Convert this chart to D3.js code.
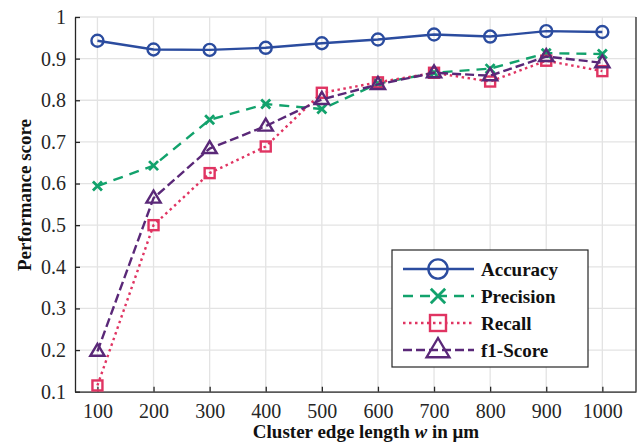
<!DOCTYPE html>
<html><head><meta charset="utf-8">
<script src="https://cdn.jsdelivr.net/npm/d3@7"></script>
<style>body{margin:0;background:#fff}</style>
</head><body>
<script>
const edgeLengths = [100,200,300,400,500,600,700,800,900,1000];
const accuracy  = [0.943,0.922,0.921,0.926,0.937,0.946,0.958,0.953,0.966,0.964];
const precision = [0.594,0.643,0.753,0.791,0.779,0.840,0.866,0.876,0.913,0.911];
const recall    = [0.115,0.500,0.625,0.689,0.818,0.843,0.866,0.845,0.895,0.870];
const f1score   = [0.197,0.565,0.684,0.738,0.802,0.838,0.866,0.859,0.905,0.890];
const xTicks = [100,200,300,400,500,600,700,800,900,1000];
const yTicks = [0.1,0.2,0.3,0.4,0.5,0.6,0.7,0.8,0.9,1];
const seriesNames = ["Accuracy","Precision","Recall","f1-Score"];

const W=639,H=444;
const serif="serif";
const svg=d3.select("body").append("svg").attr("width",W).attr("height",H).attr("font-family",serif);
const x=d3.scaleLinear().domain([60,1060]).range([75,636]);
const y=d3.scaleLinear().domain([0.1,1]).range([391.7,17]);

// grid
svg.append("g").selectAll("line").data(xTicks).join("line")
  .attr("x1",d=>x(d)).attr("x2",d=>x(d)).attr("y1",y(1)).attr("y2",y(0.1))
  .attr("stroke","#e3e3e3").attr("stroke-width",1.3);
svg.append("g").selectAll("line").data(yTicks).join("line")
  .attr("x1",x.range()[0]).attr("x2",x.range()[1]).attr("y1",d=>y(d)).attr("y2",d=>y(d))
  .attr("stroke","#e3e3e3").attr("stroke-width",1.3);

// axes
const xAxis=svg.append("g").attr("transform",`translate(0,${y(0.1)})`)
  .call(d3.axisBottom(x).tickValues(xTicks).tickFormat(d3.format("d")).tickSizeInner(-5).tickSizeOuter(0).tickPadding(12));
const yAxis=svg.append("g").attr("transform",`translate(${x.range()[0]},0)`)
  .call(d3.axisLeft(y).tickValues(yTicks).tickFormat(d=>d===1?"1":d3.format(".1f")(d)).tickSizeInner(-5).tickSizeOuter(0).tickPadding(9));
[xAxis,yAxis].forEach(a=>{
  a.attr("font-family",serif).attr("font-size",20);
  a.selectAll("path,line").attr("stroke","#262626").attr("stroke-width",1.3);
  a.selectAll("text").attr("font-family",serif).attr("font-size",20).attr("fill","#262626");
});
svg.append("line").attr("x1",x.range()[1]).attr("x2",x.range()[1]).attr("y1",y(1)).attr("y2",y(0.1))
  .attr("stroke","#262626").attr("stroke-width",1.3);

svg.append("text").attr("x",366).attr("y",438).attr("text-anchor","middle")
  .attr("font-family",serif).attr("font-weight","bold").attr("font-size",19).attr("fill","#111")
  .html("Cluster edge length <tspan font-style='italic'>w</tspan> in μm");
svg.append("text").attr("transform","translate(31,195) rotate(-90)").attr("text-anchor","middle")
  .attr("font-family",serif).attr("font-weight","bold").attr("font-size",19).attr("fill","#111")
  .text("Performance score");

const series=[
  {name:seriesNames[0],vals:accuracy,color:"#2b4c9f",dash:null,marker:"circle"},
  {name:seriesNames[1],vals:precision,color:"#12a26c",dash:"10,7",marker:"x"},
  {name:seriesNames[2],vals:recall,color:"#e03462",dash:"2.5,3.5",marker:"square"},
  {name:seriesNames[3],vals:f1score,color:"#5a2878",dash:"9,4",marker:"triangle"}
];

function marker(g,type,cx,cy,s,color){
  if(type==="circle") g.append("circle").attr("cx",cx).attr("cy",cy).attr("r",6*s).attr("fill","none").attr("stroke",color).attr("stroke-width",2.4);
  else if(type==="x"){const r=4.5*s; g.append("path").attr("d",`M${cx-r},${cy-r}L${cx+r},${cy+r}M${cx-r},${cy+r}L${cx+r},${cy-r}`).attr("stroke",color).attr("stroke-width",2.8).attr("fill","none");}
  else if(type==="square"){const r=5*s; g.append("rect").attr("x",cx-r).attr("y",cy-r).attr("width",2*r).attr("height",2*r).attr("fill","none").attr("stroke",color).attr("stroke-width",2.4);}
  else if(type==="triangle"){const r=7.5*s; g.append("path").attr("d",`M${cx},${cy-r}L${cx+r*0.95},${cy+r*0.6}L${cx-r*0.95},${cy+r*0.6}Z`).attr("fill","none").attr("stroke",color).attr("stroke-width",2.4);}
}

const line=d3.line().x(d=>x(d[0])).y(d=>y(d[1]));
series.forEach(s=>{
  const pts=edgeLengths.map((e,i)=>[e,s.vals[i]]);
  svg.append("path").datum(pts).attr("d",line).attr("fill","none").attr("stroke",s.color)
    .attr("stroke-width",2.4).attr("stroke-dasharray",s.dash);
  const g=svg.append("g");
  pts.forEach(p=>marker(g,s.marker,x(p[0]),y(p[1]),1,s.color));
});

// legend
const lg=svg.append("g");
lg.append("rect").attr("x",392).attr("y",250).attr("width",196).attr("height",117)
  .attr("fill","#fff").attr("stroke","#262626").attr("stroke-width",1.2);
const ly=[269,296,323,350];
series.forEach((s,i)=>{
  lg.append("line").attr("x1",403).attr("x2",474).attr("y1",ly[i]).attr("y2",ly[i])
    .attr("stroke",s.color).attr("stroke-width",2.4).attr("stroke-dasharray",s.dash);
  marker(lg,s.marker,438,ly[i],1.6,s.color);
  lg.append("text").attr("x",481).attr("y",ly[i]+7).attr("font-family",serif).attr("font-weight","bold")
    .attr("font-size",19).attr("fill","#111").text(s.name);
});
</script>
</body></html>
